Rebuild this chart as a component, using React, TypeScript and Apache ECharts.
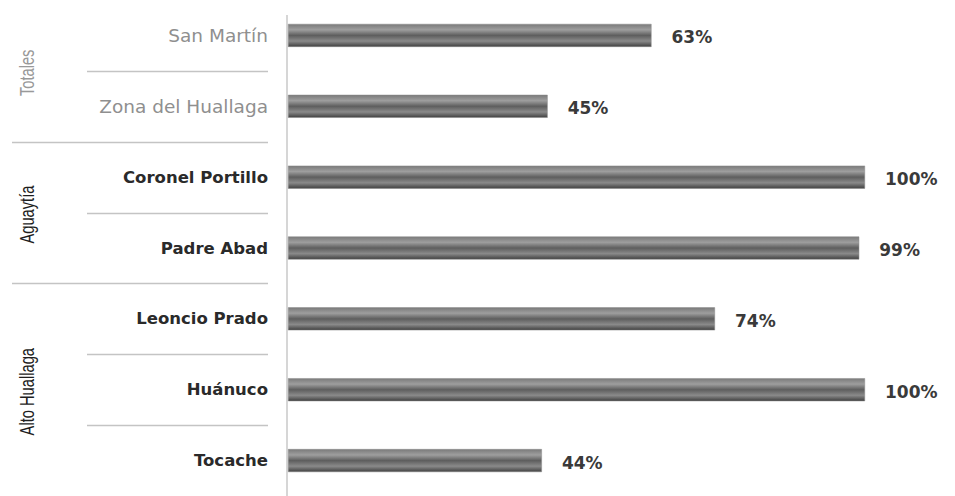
import React, { useEffect, useRef } from "react";
import * as echarts from "echarts";

const categories = [
  "San Martín",
  "Zona del Huallaga",
  "Coronel Portillo",
  "Padre Abad",
  "Leoncio Prado",
  "Huánuco",
  "Tocache",
];
const values = [63, 45, 100, 99, 74, 100, 44];
const groupOf = [0, 0, 1, 1, 2, 2, 2];
const groups = ["Totales", "Aguaytía", "Alto Huallaga"];

export default function App() {
  const ref = useRef<HTMLDivElement>(null);
  useEffect(() => {
    if (!ref.current) return;
    const chart = echarts.init(ref.current, null, { renderer: "svg" });
    const font = "'DejaVu Sans', 'Open Sans', sans-serif";
    chart.setOption({
      animation: false,
      grid: { left: 288, right: 90, top: 0, height: 500 },
      xAxis: { type: "value", min: 0, max: 100, show: false },
      yAxis: {
        type: "category",
        data: categories,
        inverse: true,
        axisLine: { show: false },
        axisTick: { show: false },
        splitLine: { show: false },
        axisLabel: {
          margin: 20,
          formatter: (v: string) => {
            const i = categories.indexOf(v);
            return groupOf[i] === 0 ? `{g|${v}}` : `{d|${v}}`;
          },
          rich: {
            g: { fontFamily: font, fontSize: 18.5, color: "#8f8f8f", fontWeight: 400 },
            d: { fontFamily: font, fontSize: 16.5, color: "#2a2a2a", fontWeight: "bold" },
          },
        },
      },
      series: [
        {
          type: "bar",
          data: values,
          barWidth: 23,
          itemStyle: {
            color: new echarts.graphic.LinearGradient(0, 0, 0, 1, [
              { offset: 0, color: "#7a7a7a" },
              { offset: 0.25, color: "#9e9e9e" },
              { offset: 0.5, color: "#5e5e5e" },
              { offset: 0.75, color: "#8a8a8a" },
              { offset: 1, color: "#404040" },
            ]),
            borderColor: "#8a8a8a",
            borderWidth: 0.5,
          },
          label: {
            show: true,
            position: "right",
            distance: 20,
            formatter: "{c}%",
            fontFamily: font,
            fontSize: 17,
            fontWeight: "bold",
            color: "#3a3a3a",
            offset: [0, 2],
          },
        },
      ],
    });

    const ys = categories.map((c) => chart.convertToPixel({ yAxisIndex: 0 }, c) as number);
    const x0 = chart.convertToPixel({ xAxisIndex: 0 }, 0) as number;
    const graphics: any[] = [];
    graphics.push({
      type: "line",
      shape: { x1: x0 - 1, y1: 15, x2: x0 - 1, y2: 496 },
      style: { stroke: "#d6d6d6", lineWidth: 2 },
    });
    for (let i = 0; i < categories.length - 1; i++) {
      const y = Math.round((ys[i] + ys[i + 1]) / 2) + 0.5;
      const long = groupOf[i] !== groupOf[i + 1];
      graphics.push({
        type: "line",
        shape: { x1: long ? 12 : 87, y1: y, x2: 268, y2: y },
        style: { stroke: "#c4c4c4", lineWidth: 1.5 },
      });
    }
    groups.forEach((g, gi) => {
      const idx = groupOf.map((v, i) => (v === gi ? i : -1)).filter((i) => i >= 0);
      const cy = (ys[idx[0]] + ys[idx[idx.length - 1]]) / 2 + 2;
      graphics.push({
        type: "text",
        x: 27,
        y: cy,
        rotation: Math.PI / 2,
        scaleX: 0.7,
        style: {
          text: g,
          fontFamily: "'Liberation Sans', Arial, sans-serif",
          fontSize: 21,
          fill: gi === 0 ? "#999" : "#1e1e1e",
          align: "center",
          verticalAlign: "middle",
        },
      });
    });
    chart.setOption({ graphic: graphics });
    return () => chart.dispose();
  }, []);
  return (
    <div
      ref={ref}
      style={{ position: "absolute", left: 0, top: 0, width: 955, height: 496 }}
    />
  );
}
